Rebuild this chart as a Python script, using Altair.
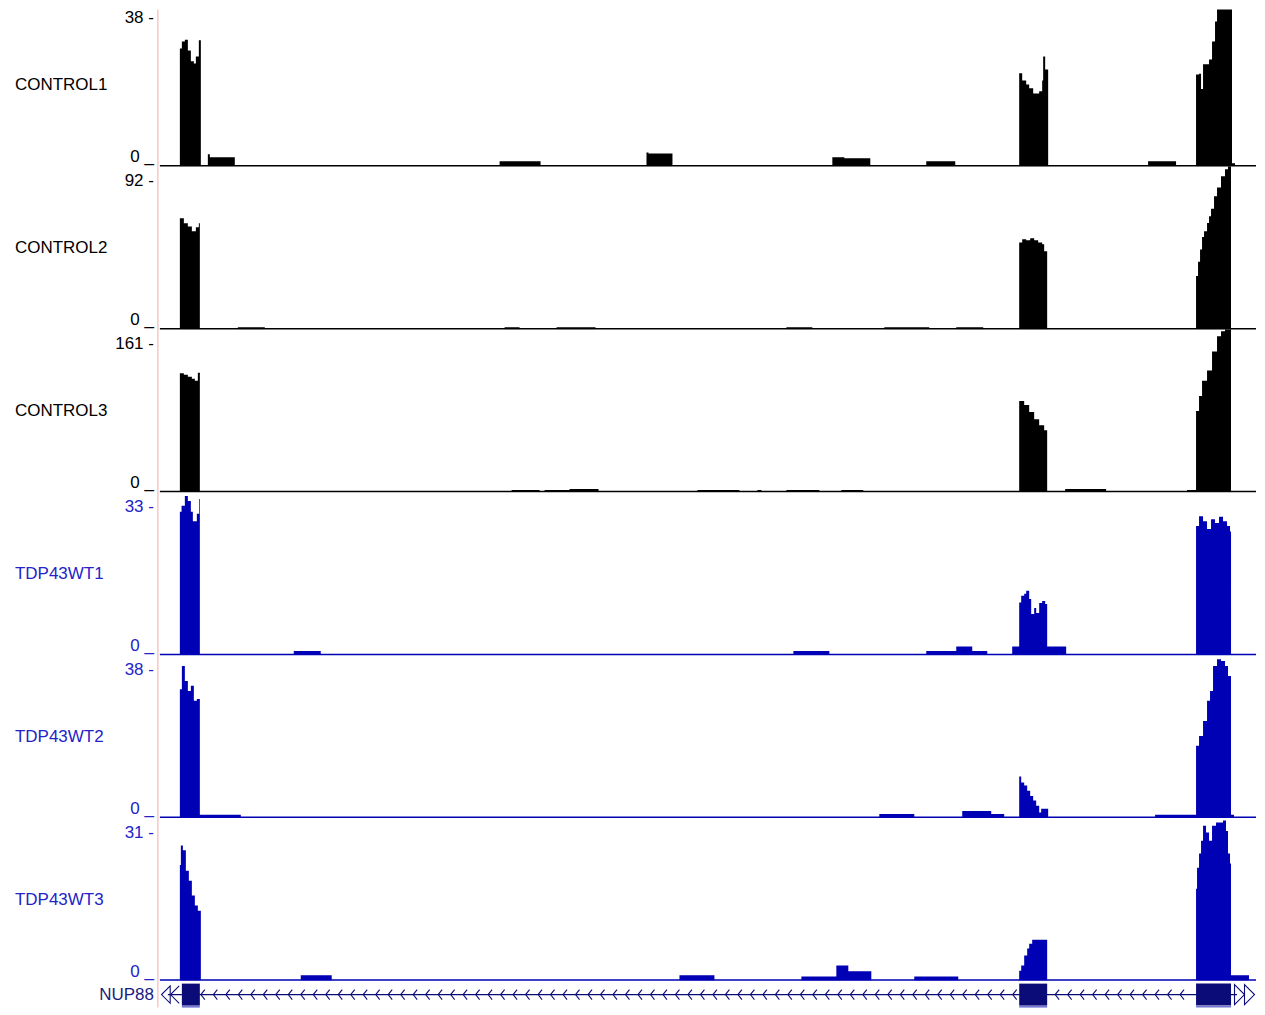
import altair as alt
import pandas as pd
import numpy as np

PANEL_W = 1097
TRACK_H = 163
FIRST_H = 157  # the first track is cut off at the top by the image border
GENE_H = 27
FONT = "Liberation Sans"
LEFT = 152  # room for the track labels

track_names = ["CONTROL1", "CONTROL2", "CONTROL3", "TDP43WT1", "TDP43WT2", "TDP43WT3"]
track_max = [38, 92, 161, 33, 38, 31]
track_colors = ["#000000", "#000000", "#000000", "#0000b4", "#0000b4", "#0000b4"]
label_colors = ["#000000", "#000000", "#000000", "#2323c8", "#2323c8", "#2323c8"]

# coverage breakpoints (position, value); step-after between points
c1_pos = [0, 20, 22, 25, 28, 31, 34, 36, 39, 41, 48, 50, 75, 340, 381, 487, 489, 513,
          673, 685, 711, 767, 796, 860, 863, 867, 870, 874, 880, 883, 884, 886, 889,
          989, 1017, 1037, 1040, 1042, 1044, 1048, 1050, 1053, 1056, 1058, 1060, 1073, 1076, 1097]
c1_val = [0, 27.5, 29.1, 29.5, 27, 24.5, 24, 25.6, 29.4, 0, 2.8, 2.1, 0, 1.2, 0, 3.2, 3.0, 0,
          2.1, 1.9, 0, 1.2, 0, 21.7, 20.0, 19.1, 18.2, 17.0, 17.5, 20, 25.6, 22.6, 0,
          1.2, 0, 21.4, 21.6, 18, 23.8, 23.8, 24.9, 29.1, 33.8, 37, 39, 0.7, 0, 0]

c2_pos = [0, 20, 24, 28, 32, 36, 39, 40, 78, 105, 345, 360, 397, 436, 627, 653, 725, 770,
          797, 824, 860, 863, 867, 871, 875, 879, 883, 885, 888,
          1037, 1039, 1041, 1043, 1045, 1048, 1050, 1052, 1055, 1058, 1062, 1066, 1069, 1072, 1097]
c2_val = [0, 62.7, 59.8, 58, 55.3, 57.6, 59.8, 0, 1.1, 0, 1.1, 0, 1.1, 0, 1.1, 0, 1.1, 0,
          1.1, 0, 49, 50.8, 50.2, 51.3, 50.2, 49, 48, 44, 0,
          30, 38, 45, 52, 55.3, 60, 63.8, 68, 75, 80, 86.4, 90.3, 92, 0, 0]

c3_pos = [0, 20, 24, 28, 32, 35, 38, 40, 352, 380, 385, 410, 439, 538, 580, 598, 602,
          627, 660, 682, 704, 860, 865, 870, 875, 880, 885, 888, 906, 947,
          1028, 1037, 1040, 1043, 1048, 1053, 1058, 1062, 1066, 1072, 1097]
c3_val = [0, 117.5, 116, 114, 112, 110, 118, 0, 2, 0, 2, 3, 0, 2, 0, 2, 0,
          2, 0, 2, 0, 90, 86, 79, 72, 66, 61, 0, 3, 0,
          2, 80, 95, 110, 120, 139, 154, 159, 161, 0, 0]

t1_pos = [0, 20, 21.7, 25, 28, 31, 33, 37, 39.3, 40, 134, 161, 634, 670, 767, 797, 813, 828,
          853, 860, 862, 865, 867, 870, 872, 875, 877, 880, 883, 886, 888, 907,
          1037, 1040, 1044, 1048, 1052, 1056, 1060, 1064, 1068, 1071, 1072, 1097]
t1_val = [0, 29, 30.2, 32.2, 31.2, 29, 27.1, 28.6, 31.6, 0, 0.8, 0, 0.8, 0, 0.8, 1.7, 0.8, 0,
          1.7, 10.6, 12, 12.4, 13, 11.3, 8.3, 9.5, 8.5, 10.5, 10.9, 10.3, 1.7, 0,
          26.1, 28.1, 27.1, 25.5, 27.5, 26.7, 28, 27.1, 26.1, 25, 0, 0]

t2_pos = [0, 20, 22, 25, 28, 31, 34, 37, 40, 81, 720, 755, 803, 832, 845,
          860, 862, 865, 868, 871, 874, 877, 880, 882, 885, 889,
          996, 1037, 1040, 1044, 1048, 1051, 1054, 1058, 1062, 1066, 1069, 1072, 1075, 1097]
t2_val = [0, 30, 35.4, 31.9, 29.6, 30.8, 27.3, 27.7, 0.7, 0, 0.9, 0, 1.6, 0.9, 0,
          9.6, 8.2, 7.5, 6.3, 5.1, 4, 2.8, 1.2, 2.1, 2.1, 0,
          0.7, 16.8, 19.1, 22.6, 27.3, 29.6, 35.4, 37, 36.6, 35.4, 33.1, 0.7, 0, 0]

t3_pos = [0, 20, 21, 23, 26, 29, 32, 35, 38, 41, 141, 172, 520, 555, 642, 677, 689, 712,
          755, 799, 860, 862, 865, 868, 870, 873, 888,
          1037, 1038, 1040, 1042, 1044, 1047, 1050, 1053, 1057, 1061, 1064, 1067, 1069, 1071,
          1072, 1090, 1097]
t3_val = [0, 22, 25.7, 24.8, 20.9, 19, 16.2, 14.3, 13.3, 0, 1.0, 0, 1.0, 0, 0.8, 2.9, 1.8, 0,
          0.8, 0, 1.9, 2.9, 4.8, 6.1, 7, 7.8, 0,
          17.5, 21.5, 24.2, 26.6, 29.5, 28.2, 26.6, 29.5, 30.1, 30.1, 30.5, 28.5, 24.2, 22.3,
          1.0, 0, 0]

track_pos = [c1_pos, c2_pos, c3_pos, t1_pos, t2_pos, t3_pos]
track_val = [c1_val, c2_val, c3_val, t1_val, t2_val, t3_val]

# gene model NUP88 (minus strand)
gene_name = "NUP88"
exon_start = [22, 860, 1037]
exon_end = [40, 888, 1072]
intron_start = [8]
intron_end = [1078]

GENE_COLOR = "#0c0c78"
PINK = "#f7b8b8"

xscale = alt.Scale(domain=[0, PANEL_W], nice=False, zero=False)


def anchor(h):
    # invisible rule fixing the left edge of every panel's bounds
    return alt.Chart(pd.DataFrame({"a": [0]})).mark_rule(opacity=0, strokeWidth=0.01).encode(
        x=alt.value(-LEFT), y=alt.value(1), y2=alt.value(h - 1)
    )


def track_panel(i):
    h = FIRST_H if i == 0 else TRACK_H
    off = TRACK_H - h
    ymax = track_max[i] * h / TRACK_H
    df = pd.DataFrame({"pos": track_pos[i], "value": track_val[i]})
    area = alt.Chart(df).mark_area(
        interpolate="step-after", color=track_colors[i], clip=True
    ).encode(
        x=alt.X("pos:Q", scale=xscale, axis=None),
        y=alt.Y("value:Q", scale=alt.Scale(domain=[0, ymax], nice=False), axis=None, stack=None),
    )
    base = alt.Chart(pd.DataFrame({"a": [0]})).mark_rule(
        color=track_colors[i], strokeWidth=1.5
    ).encode(x=alt.value(0), x2=alt.value(PANEL_W), y=alt.value(h - 0.5))
    pink = alt.Chart(pd.DataFrame({"a": [0]})).mark_rule(
        color=PINK, strokeWidth=1.2
    ).encode(x=alt.value(-2), y=alt.value(0), y2=alt.value(h))
    name = alt.Chart(pd.DataFrame({"t": [track_names[i]]})).mark_text(
        align="left", baseline="middle", font=FONT, fontSize=17, color=label_colors[i]
    ).encode(text="t:N", x=alt.value(-145), y=alt.value(82 - off))
    top = alt.Chart(pd.DataFrame({"t": [f"{track_max[i]} -"]})).mark_text(
        align="right", baseline="middle", font=FONT, fontSize=17, color=label_colors[i]
    ).encode(text="t:N", x=alt.value(-6), y=alt.value(15 - off))
    zero = alt.Chart(pd.DataFrame({"t": ["0 _"]})).mark_text(
        align="right", baseline="middle", font=FONT, fontSize=17, color=label_colors[i]
    ).encode(text="t:N", x=alt.value(-6), y=alt.value(154 - off))
    return alt.layer(anchor(h), area, base, pink, name, top, zero).properties(width=PANEL_W, height=h)


panels = [track_panel(i) for i in range(6)]

# gene track
exons = pd.DataFrame({"start": exon_start, "end": exon_end})
introns = pd.DataFrame({"start": intron_start, "end": intron_end})
chev = np.concatenate([np.arange(43, 856, 12.5), np.arange(898, 1031, 12.5)])
chev_df = pd.DataFrame({"pos": chev})
left_df = pd.DataFrame({"pos": [6]})
left_chev_df = pd.DataFrame({"pos": [15]})
right_df = pd.DataFrame({"pos": [1080.5, 1090.5]})

GY = 14

intron_line = alt.Chart(introns).mark_rule(color=GENE_COLOR, strokeWidth=1.3).encode(
    x=alt.X("start:Q", scale=xscale, axis=None), x2="end:Q", y=alt.value(GY)
)
exon_rect = alt.Chart(exons).mark_rect(color=GENE_COLOR).encode(
    x=alt.X("start:Q", scale=xscale, axis=None), x2="end:Q", y=alt.value(3), y2=alt.value(25)
)
under = alt.Chart(exons).mark_rule(color="#7474d4", strokeWidth=1.6).encode(
    x=alt.X("start:Q", scale=xscale, axis=None), x2="end:Q", y=alt.value(26.2)
)
chevrons = alt.Chart(chev_df).mark_point(
    shape="M0.4,-1L-0.4,0L0.4,1", filled=False, color=GENE_COLOR, size=100, strokeWidth=1.1, opacity=1
).encode(x=alt.X("pos:Q", scale=xscale, axis=None), y=alt.value(GY))
left_tri = alt.Chart(left_df).mark_point(
    shape="M0.5,-1L-0.5,0L0.5,1Z", filled=False, color=GENE_COLOR, size=300, strokeWidth=1.1, opacity=1
).encode(x=alt.X("pos:Q", scale=xscale, axis=None), y=alt.value(GY))
left_chev = alt.Chart(left_chev_df).mark_point(
    shape="M0.5,-1L-0.5,0L0.5,1", filled=False, color=GENE_COLOR, size=300, strokeWidth=1.1, opacity=1
).encode(x=alt.X("pos:Q", scale=xscale, axis=None), y=alt.value(GY))
right_tri = alt.Chart(right_df).mark_point(
    shape="M-0.5,-1L0.5,0L-0.5,1Z", filled=False, color=GENE_COLOR, size=400, strokeWidth=1.1, opacity=1
).encode(x=alt.X("pos:Q", scale=xscale, axis=None), y=alt.value(GY))
gpink = alt.Chart(pd.DataFrame({"a": [0]})).mark_rule(color=PINK, strokeWidth=1.2).encode(
    x=alt.value(-2), y=alt.value(0), y2=alt.value(GENE_H)
)
gname = alt.Chart(pd.DataFrame({"t": [gene_name]})).mark_text(
    align="right", baseline="middle", font=FONT, fontSize=17, color="#1a1a80"
).encode(text="t:N", x=alt.value(-6), y=alt.value(GY))

gene_panel = alt.layer(
    anchor(GENE_H), intron_line, exon_rect, under, chevrons, left_tri, left_chev, right_tri, gpink, gname
).properties(width=PANEL_W, height=GENE_H)

chart = alt.vconcat(*panels, gene_panel, spacing=0, bounds="flush").properties(
    padding={"left": 0, "top": 0, "right": 0, "bottom": 0}
).configure_view(stroke=None)

chart.save("out.html", embed_options={"renderer": "svg", "actions": False})
